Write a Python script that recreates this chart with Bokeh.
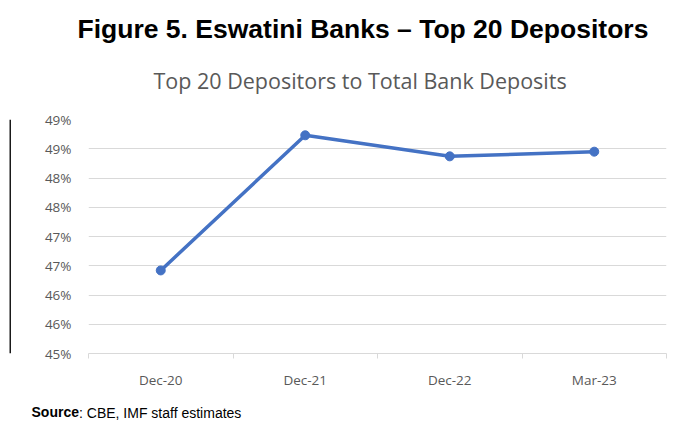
from bokeh.plotting import figure
from bokeh.layouts import column, row
from bokeh.models import Title, FixedTicker, Range1d, BoxAnnotation
from bokeh.embed import file_html
from bokeh.resources import INLINE

categories = ["Dec-20", "Dec-21", "Dec-22", "Mar-23"]
values = [46.42, 48.73, 48.37, 48.45]
y_ticks = [45.0, 45.5, 46.0, 46.5, 47.0, 47.5, 48.0, 48.5, 49.0]
y_tick_labels = ["45%", "46%", "46%", "47%", "47%", "48%", "48%", "49%", "49%"]

title_text = "Figure 5. Eswatini Banks \u2013 Top 20 Depositors"
subtitle_text = "Top 20 Depositors to Total Bank Deposits"
source_bold = "Source"
source_rest = ": CBE, IMF staff estimates"

xs = list(range(len(categories)))

PAGE_W, PAGE_H = 695, 430
OX, OY = 11, 6          # width of the left border strip / height of the top border strip
BORDER = "#1a1a1a"

# ---- top border strip (page y 0..6) ----
top = figure(width=PAGE_W, height=OY, output_backend="svg", toolbar_location=None,
             x_range=Range1d(0, PAGE_W), y_range=Range1d(0, OY),
             x_axis_location=None, y_axis_location=None, min_border=0)
top.outline_line_color = None
top.grid.visible = False
top.add_layout(BoxAnnotation(left=9, right=PAGE_W, bottom=0, top=2,
                             fill_color=BORDER, fill_alpha=1, line_color=None))

# ---- left border strip (page x 0..11) ----
W, H = PAGE_W - OX, PAGE_H - OY
left = figure(width=OX, height=H, output_backend="svg", toolbar_location=None,
              x_range=Range1d(0, OX), y_range=Range1d(0, H),
              x_axis_location=None, y_axis_location=None, min_border=0)
left.outline_line_color = None
left.grid.visible = False
left.add_layout(BoxAnnotation(left=9, right=11, bottom=0, top=H,
                              fill_color=BORDER, fill_alpha=1, line_color=None))

# ---- main chart ----
FL, FT = 88 - OX, 119 - OY
FR = W - (666 - OX)
FB = H - (353 - OY)

p = figure(width=W, height=H, output_backend="svg", toolbar_location=None,
           x_range=Range1d(-0.5, len(categories) - 0.5), y_range=Range1d(45, 49),
           min_border_left=FL, min_border_right=FR, min_border_top=FT, min_border_bottom=FB)
p.outline_line_color = None
p.background_fill_color = "white"
p.border_fill_color = "white"

p.line(xs, values, color="#4472C4", line_width=3.5)
p.scatter(xs, values, size=9, color="#4472C4")

# grid
p.xgrid.visible = False
p.ygrid.ticker = FixedTicker(ticks=y_ticks)
p.ygrid.grid_line_color = "#D9D9D9"
p.ygrid.grid_line_width = 1

# y axis
p.yaxis.ticker = FixedTicker(ticks=y_ticks)
p.yaxis.major_label_overrides = dict(zip(y_ticks, y_tick_labels))
p.yaxis.axis_line_color = None
p.yaxis.major_tick_line_color = None
p.yaxis.minor_tick_line_color = None
p.yaxis.major_tick_in = 0
p.yaxis.major_tick_out = 0
p.yaxis.major_label_standoff = 17
p.yaxis.major_label_text_font = "Open Sans"
p.yaxis.major_label_text_font_size = "13.5px"
p.yaxis.major_label_text_color = "#595959"

# x axis
p.xaxis.ticker = FixedTicker(ticks=xs, minor_ticks=[x - 0.5 for x in xs] + [xs[-1] + 0.5])
p.xaxis.major_label_overrides = dict(zip(xs, categories))
p.xaxis.axis_line_color = "#D9D9D9"
p.xaxis.major_tick_line_color = None
p.xaxis.major_tick_in = 0
p.xaxis.major_tick_out = 0
p.xaxis.minor_tick_line_color = "#D9D9D9"
p.xaxis.minor_tick_in = 0
p.xaxis.minor_tick_out = 5
p.xaxis.major_label_standoff = 12
p.xaxis.major_label_text_font = "Open Sans"
p.xaxis.major_label_text_font_size = "13.5px"
p.xaxis.major_label_text_color = "#595959"

# titles above (first added sits nearest the frame)
p.add_layout(Title(text=subtitle_text, align="left", offset=65, standoff=45,
                   vertical_align="top",
                   text_font="Open Sans", text_font_style="normal",
                   text_font_size="21.5px", text_color="#595959"), "above")
p.add_layout(Title(text=title_text, align="left", offset=-11, standoff=0,
                   vertical_align="bottom",
                   text_font="Liberation Sans", text_font_style="bold",
                   text_font_size="26.5px", text_color="#000000"), "above")

# source line below: spacer, then bold + regular parts on one row
p.add_layout(Title(text=" ", text_font_size="1px", standoff=15.5), "below")
p.add_layout(Title(text=source_bold, align="left", offset=-57, standoff=-15.6,
                   vertical_align="bottom",
                   text_font="Liberation Sans", text_font_style="bold",
                   text_font_size="14px", text_color="#000000"), "below")
p.add_layout(Title(text=source_rest, align="left", offset=-9.5, standoff=-15.6,
                   vertical_align="top",
                   text_font="Liberation Sans", text_font_style="normal",
                   text_font_size="14px", text_color="#000000"), "below")

layout = column(top, row(left, p))

open("out.html", "w").write(file_html(layout, INLINE))
